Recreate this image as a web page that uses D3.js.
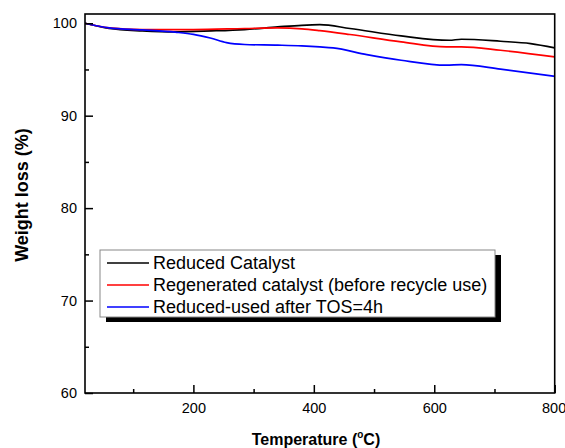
<!DOCTYPE html>
<html><head><meta charset="utf-8">
<script src="https://cdn.jsdelivr.net/npm/d3@7"></script>
<style>body{margin:0;background:#fff}svg{display:block;font-family:"Liberation Sans",Arial,sans-serif}</style>
</head><body><svg id="c" width="565" height="448"></svg>
<script>
const seriesNames = ["Reduced Catalyst","Regenerated catalyst (before recycle use)","Reduced-used after TOS=4h"];
const seriesColors = ["#000000","#ff0000","#0000ff"];
const tempReduced = [20,60,115,170,230,285,340,380,410,460,545,625,645,710,760,800];
const wReduced    = [100,99.43,99.17,99.06,99.17,99.32,99.6,99.78,99.84,99.43,98.63,98.16,98.27,98.05,97.8,97.33];
const tempRegen = [20,60,115,200,285,340,380,410,460,545,620,645,710,800];
const wRegen    = [100,99.5,99.32,99.32,99.43,99.5,99.4,99.2,98.78,97.98,97.44,97.44,97.08,96.36];
const tempUsed = [20,60,115,170,200,228,255,285,340,380,410,432,488,545,620,645,710,800];
const wUsed    = [100,99.5,99.28,99.03,98.8,98.4,97.9,97.7,97.63,97.55,97.44,97.33,96.61,96.0,95.46,95.53,95.03,94.25];
const xTicks = [200,400,600,800];
const xMinor = [100,300,500,700];
const yTicks = [60,70,80,90,100];
const yMinor = [65,75,85,95];

const svg = d3.select("#c");
const L=85,R=554.7,T=14,B=393;
const x = d3.scaleLinear().domain([20,800]).range([L,R]);
const y = d3.scaleLinear().domain([60,101]).range([B,T]);

const series = [[tempReduced,wReduced],[tempRegen,wRegen],[tempUsed,wUsed]];
const line = d3.line().x(d=>x(d[0])).y(d=>y(d[1])).curve(d3.curveMonotoneX);
const g = svg.append("g");
g.append("defs").append("clipPath").attr("id","clip").append("rect").attr("x",L).attr("y",T).attr("width",R-L).attr("height",B-T);
series.forEach((s,i)=>{
  const pts = s[0].map((t,j)=>[t,s[1][j]]);
  g.append("path").attr("d",line(pts)).attr("fill","none").attr("stroke",seriesColors[i]).attr("stroke-width",1.7).attr("clip-path","url(#clip)");
});

// axes (inward ticks)
const xa = svg.append("g").attr("transform",`translate(0,${B})`)
  .call(d3.axisBottom(x).tickValues(xTicks).tickSize(-8).tickPadding(10).tickFormat(d3.format("d")));
const xm = svg.append("g").attr("transform",`translate(0,${B})`)
  .call(d3.axisBottom(x).tickValues(xMinor).tickSize(-4).tickFormat(""));
const ya = svg.append("g").attr("transform",`translate(${L},0)`)
  .call(d3.axisLeft(y).tickValues(yTicks).tickSize(-8).tickPadding(8).tickFormat(d3.format("d")));
const ym = svg.append("g").attr("transform",`translate(${L},0)`)
  .call(d3.axisLeft(y).tickValues(yMinor).tickSize(-4).tickFormat(""));
[xa,xm,ya,ym].forEach(a=>{
  a.select(".domain").remove();
  a.selectAll(".tick line").attr("stroke","#000").attr("stroke-width",1.5);
  a.selectAll("text").attr("font-size",14.5).attr("fill","#000").attr("font-family","Liberation Sans, Arial, sans-serif");
});
// keep the last x label inside the window
xa.selectAll(".tick text").filter(d=>d===800).attr("text-anchor","end").attr("dx",11);
svg.append("rect").attr("x",L).attr("y",T).attr("width",R-L).attr("height",B-T)
  .attr("fill","none").attr("stroke","#000").attr("stroke-width",1.6);

// titles
const xt = svg.append("text").attr("x",316).attr("y",445).attr("text-anchor","middle")
  .attr("font-size",16).attr("font-weight","bold");
xt.append("tspan").text("Temperature (");
xt.append("tspan").attr("font-size",10).attr("dy",-7).text("o");
xt.append("tspan").attr("dy",7).text("C)");
svg.append("text").attr("transform","translate(28,195) rotate(-90)").attr("text-anchor","middle")
  .attr("font-size",18).attr("font-weight","bold").text("Weight loss (%)");

// legend
const lx=100, ly=250, lw=395, lh=67;
svg.append("rect").attr("x",lx+6).attr("y",ly+5).attr("width",lw).attr("height",lh).attr("fill","#000");
svg.append("rect").attr("x",lx).attr("y",ly).attr("width",lw).attr("height",lh).attr("fill","#fff").attr("stroke","#888").attr("stroke-width",1);
seriesNames.forEach((n,i)=>{
  const yy = ly+13+i*22;
  svg.append("line").attr("x1",lx+7).attr("x2",lx+49).attr("y1",yy).attr("y2",yy).attr("stroke",seriesColors[i]).attr("stroke-width",1.7);
  svg.append("text").attr("x",lx+53).attr("y",yy+6).attr("font-size",18).attr("fill","#000").text(n);
});
</script></body></html>
